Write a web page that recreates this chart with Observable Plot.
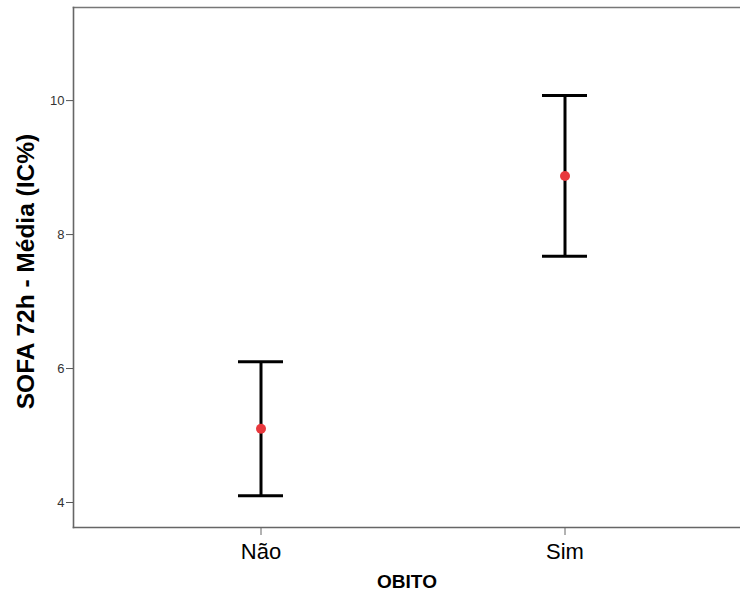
<!DOCTYPE html>
<html>
<head>
<meta charset="utf-8">
<script src="https://cdn.jsdelivr.net/npm/d3@7"></script>
<script src="https://cdn.jsdelivr.net/npm/@observablehq/plot@0.6"></script>
<style>
  html, body { margin: 0; padding: 0; background: #fff; overflow: hidden; }
</style>
</head>
<body>
<div id="chart"></div>
<script>
const categories = ["Não", "Sim"];
const means = [5.10, 8.875];
const lowers = [4.10, 7.675];
const uppers = [6.10, 10.075];
const yTicks = [4, 6, 8, 10];
const xLabel = "OBITO";
const yLabel = "SOFA 72h - Média (IC%)";

const data = categories.map((c, i) => ({cat: c, mean: means[i], lo: lowers[i], hi: uppers[i]}));

const chart = Plot.plot({
  width: 740,
  height: 601,
  marginLeft: 73,
  marginRight: 0,
  marginTop: 7,
  marginBottom: 74,
  style: {fontFamily: "'Liberation Sans', Arial, sans-serif", background: "#fff"},
  x: {type: "band", domain: categories, range: [237.5, 587.5], paddingInner: 0.852, paddingOuter: 0, align: 0.5},
  y: {domain: [3.627, 11.39], ticks: yTicks},
  marks: [
    Plot.frame({anchor: "top", stroke: "#777", strokeWidth: 1.6}),
    Plot.frame({anchor: "left", stroke: "#666", strokeWidth: 1.6}),
    Plot.frame({anchor: "bottom", stroke: "#666", strokeWidth: 1.6}),
    Plot.axisY({ticks: yTicks, tickSize: 7, tickPadding: 2, fontSize: 13, label: null, stroke: "#555", fill: "#333"}),
    Plot.axisX({tickSize: 8, tickPadding: 8, fontSize: 22, label: null, stroke: "#666", fill: "#000"}),
    Plot.ruleX(data, {x: "cat", y1: "lo", y2: "hi", stroke: "#000", strokeWidth: 3}),
    Plot.tickY(data, {x: "cat", y: "lo", stroke: "#000", strokeWidth: 3}),
    Plot.tickY(data, {x: "cat", y: "hi", stroke: "#000", strokeWidth: 3}),
    Plot.dot(data, {x: "cat", y: "mean", r: 5, fill: "#e8383d", stroke: "none"}),
    Plot.text([xLabel], {text: d => d, frameAnchor: "bottom", dy: 60, fontSize: 19, fontWeight: "bold", fill: "#000"}),
    Plot.text([yLabel], {text: d => d, frameAnchor: "left", textAnchor: "middle", lineAnchor: "middle", dx: -47, dy: 4, rotate: -90, fontSize: 24.5, fontWeight: "bold", fill: "#000"})
  ]
});
document.getElementById("chart").appendChild(chart);
</script>
</body>
</html>
